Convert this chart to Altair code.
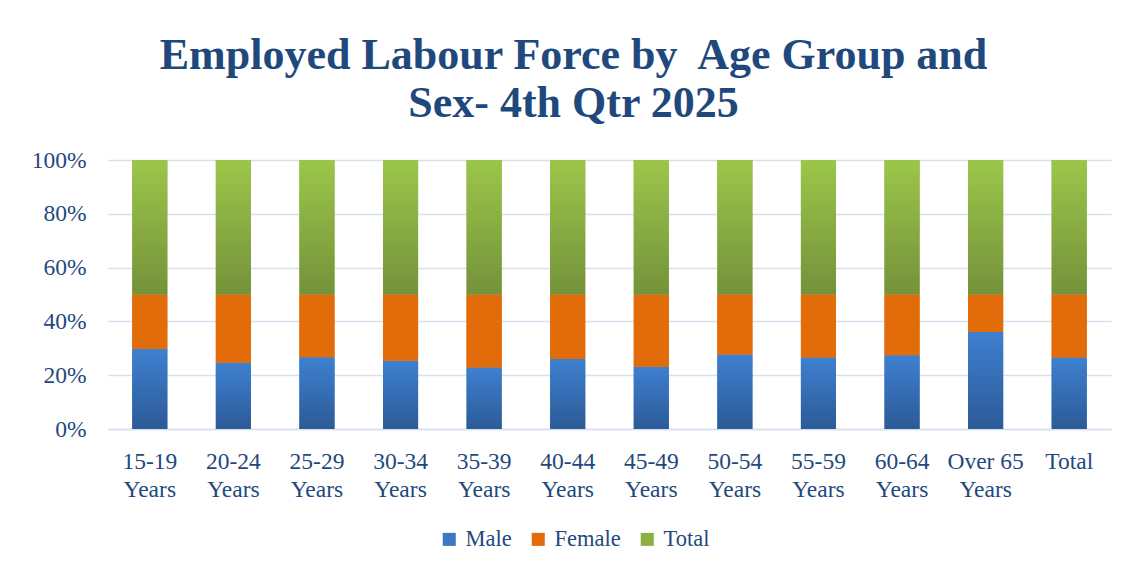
import altair as alt
import pandas as pd

categories = ["15-19 Years", "20-24 Years", "25-29 Years", "30-34 Years", "35-39 Years",
              "40-44 Years", "45-49 Years", "50-54 Years", "55-59 Years", "60-64 Years",
              "Over 65 Years", "Total"]
# share of each group's employed total, in percent
male = [59.7, 49.2, 53.4, 50.8, 45.8, 52.0, 46.2, 55.4, 53.2, 54.8, 72.2, 53.2]
female = [round(100 - m, 1) for m in male]
total = [100] * len(categories)
series = ["Male", "Female", "Total"]
colors = ["#3a78c6", "#e36c0a", "#8cb043"]

rows = []
for i, c in enumerate(categories):
    for k, (s, v) in enumerate(zip(series, [male[i], female[i], total[i]])):
        rows.append({"cat": c, "series": s, "value": v, "ord": k})
df = pd.DataFrame(rows)

FONT = "Liberation Serif"
NAVY = "#1f497d"
GRID = "#d6e0ee"

blue_grad = {"gradient": "linear", "x1": 0, "y1": 0, "x2": 0, "y2": 1,
             "stops": [{"offset": 0, "color": "#3e80d0"}, {"offset": 1, "color": "#2c5a97"}]}
green_grad = {"gradient": "linear", "x1": 0, "y1": 0, "x2": 0, "y2": 1,
              "stops": [{"offset": 0, "color": "#9cc64a"}, {"offset": 1, "color": "#74923a"}]}

x_enc = alt.X("cat:N", sort=categories, title=None,
              scale=alt.Scale(paddingInner=0.58, paddingOuter=0.29),
              axis=alt.Axis(labelAngle=0, labelFont=FONT, labelFontSize=23.5, labelColor=NAVY,
                            labelLineHeight=28, labelPadding=20, ticks=False, grid=False,
                            domainColor=GRID, domainWidth=1.5,
                            labelExpr="datum.value == 'Over 65 Years' ? ['Over 65', 'Years'] : split(datum.value, ' ')"))
y_enc = alt.Y("value:Q", stack="normalize", title=None,
              scale=alt.Scale(domain=[0, 1], nice=False),
              axis=alt.Axis(format="%", values=[0, 0.2, 0.4, 0.6, 0.8, 1.0],
                            labelFont=FONT, labelFontSize=23.5, labelColor=NAVY,
                            labelPadding=22, ticks=False, domain=False,
                            gridColor=GRID, gridWidth=1.5,
                            minExtent=100, maxExtent=100))
order_enc = alt.Order("ord:Q")

base = alt.Chart(df)

solid = base.mark_bar().encode(
    x=x_enc, y=y_enc, order=order_enc,
    color=alt.Color("series:N", sort=series,
                    scale=alt.Scale(domain=series, range=colors),
                    legend=alt.Legend(title=None, orient="none", direction="horizontal",
                                      legendX=330, legendY=368,
                                      labelFont=FONT, labelFontSize=22.5, labelColor=NAVY,
                                      symbolType="square", symbolSize=170, symbolStrokeWidth=0,
                                      labelOffset=5, columnPadding=15)),
)

grad = base.mark_bar().encode(
    x=x_enc, y=y_enc, order=order_enc,
    fill={"condition": [{"test": "datum.series === 'Male'", "value": blue_grad},
                        {"test": "datum.series === 'Total'", "value": green_grad}],
          "value": "#e36c0a"},
)

chart = alt.layer(solid, grad).properties(
    width=1003, height=269, background="white",
    padding={"left": 0, "top": 26, "right": 5, "bottom": 5},
    title=alt.TitleParams(["Employed Labour Force by\u00a0 Age Group and", "Sex- 4th Qtr 2025"],
                          font=FONT, fontSize=44, fontWeight="bold", color=NAVY,
                          anchor="middle", dx=-36, lineHeight=48, offset=22),
).configure_view(stroke="transparent", strokeWidth=0)

chart.save("out.html", embed_options={"renderer": "svg", "actions": False})
